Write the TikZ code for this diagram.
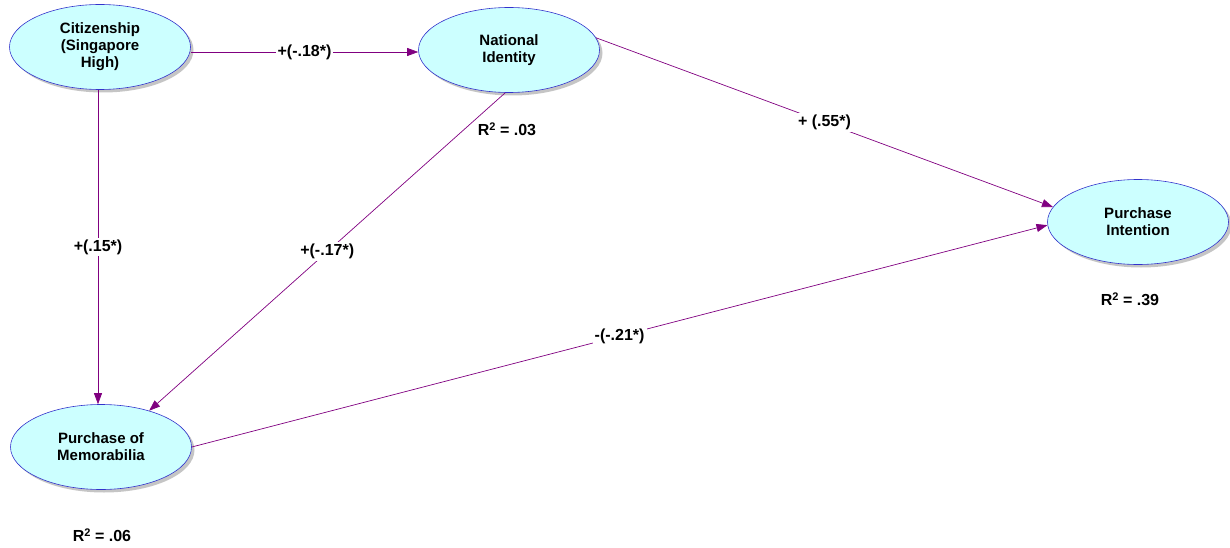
\documentclass[tikz,border=0pt]{standalone}
\usepackage{fontspec}
\setmainfont{Liberation Sans}
\usetikzlibrary{shapes.geometric,shadows,arrows.meta}
\definecolor{latfill}{HTML}{CCFFFF}
\definecolor{latdraw}{HTML}{3333CC}
\definecolor{pathcol}{HTML}{800080}
\newcommand{\rtwo}{R\raisebox{0.55ex}{\fontsize{11}{11}\selectfont 2}}
\tikzset{
	latent/.style={ellipse,draw=latdraw,semithick,fill=latfill,minimum width=181pt,minimum height=85pt,
		inner sep=0pt,align=center,font=\fontsize{15}{17}\selectfont\bfseries,
		drop shadow={shadow xshift=3pt,shadow yshift=-3pt,fill=black!45}},
	path/.style={draw=pathcol,line width=0.7pt,-{Triangle[length=11pt,width=8pt]}},
	coef/.style={fill=white,inner sep=2pt,font=\fontsize{16}{18}\selectfont\bfseries},
	rsq/.style={font=\fontsize{16}{18}\selectfont\bfseries}
}
\begin{document}
\begin{tikzpicture}[x=1pt,y=-1pt]
	\useasboundingbox (0,0) rectangle (1230,548);
	\node[latent] at (100,47) (cit) {Citizenship\\(Singapore\\High)};
	\node[latent] at (509,50) (nat) {National\\Identity};
	\node[latent] at (1138,222) (pi) {Purchase\\Intention};
	\node[latent] at (101,447) (mem) {Purchase of\\Memorabilia};
	\node[rsq] at (507,129) (rnat) {\rtwo{} = .03};
	\node[rsq] at (1130,299) (rpi) {\rtwo{} = .39};
	\node[rsq] at (102,535) (rmem) {\rtwo{} = .06};
	\path[path] (cit.east |- 0,52) -- node[coef] {+(-.18*)} (nat.west |- 0,52);
	\path[path] (cit.south -| 98,0) -- node[coef] {+(.15*)} (mem.north -| 98,0);
	\path[path] (nat.265) -- node[coef] {+(-.17*)} (mem.37);
	\path[path] (nat.8) -- node[coef] {+ (.55*)} (pi.170);
	\path[path] (mem.east) -- node[coef] {-(-.21*)} (pi.182);
\end{tikzpicture}
\end{document}
